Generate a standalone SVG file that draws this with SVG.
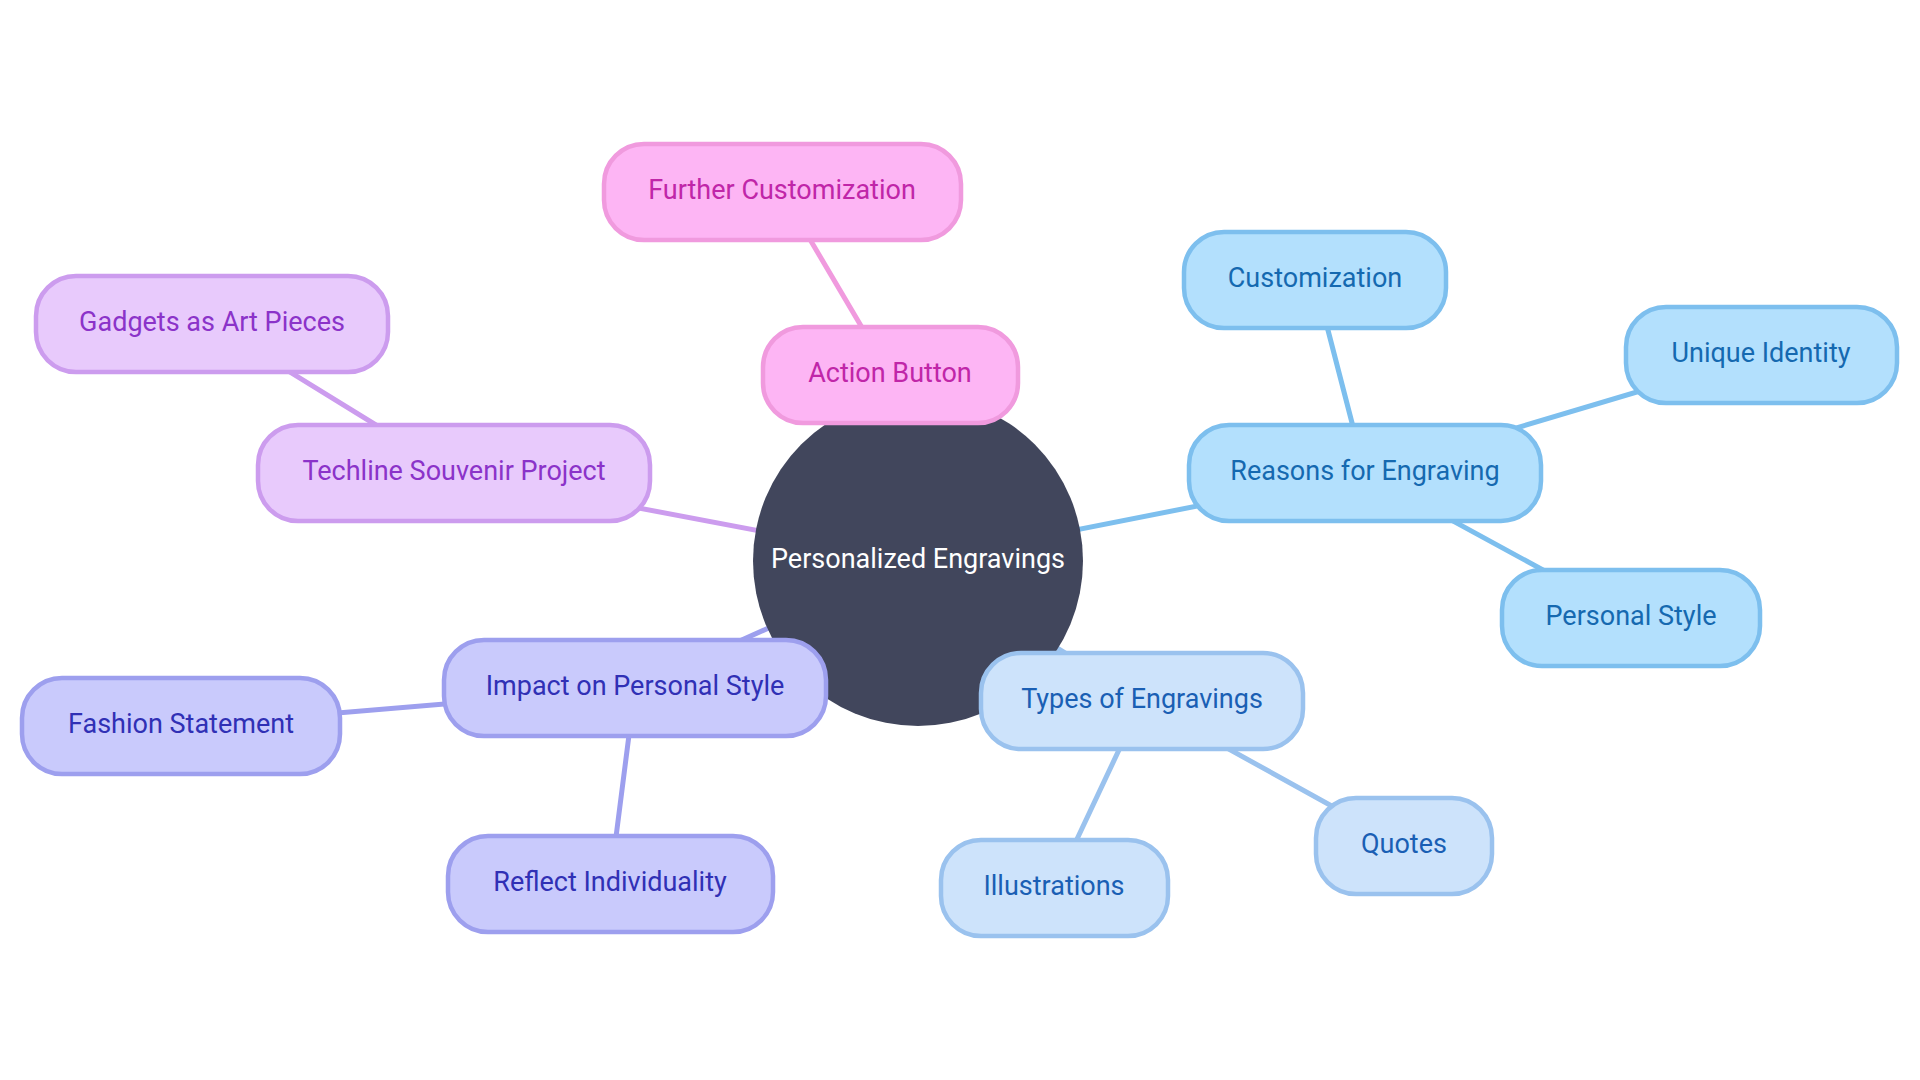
<svg xmlns="http://www.w3.org/2000/svg" width="1920" height="1080" viewBox="0 0 1920 1080">
<style>
text{font-family:Roboto,"Liberation Sans",sans-serif;font-size:27px;text-anchor:middle}
.n rect{stroke-width:4.5}
.pink rect{fill:#fdb5f4;stroke:#f09ade}.pink text{fill:#c026a8}
.purple rect{fill:#e8cafc;stroke:#cc9cee}.purple text{fill:#8b33c9}
.blue rect{fill:#b3e0fd;stroke:#7dbfee}.blue text{fill:#1569b0}
.lblue rect{fill:#cde3fb;stroke:#9ac2ee}.lblue text{fill:#1a5fb4}
.indigo rect{fill:#c9cafc;stroke:#9d9fee}.indigo text{fill:#3030b5}
#edges line{stroke-width:5;stroke-linecap:round}
.e-pink{stroke:#f09ade}.e-purple{stroke:#cc9cee}.e-blue{stroke:#7dbfee}.e-lblue{stroke:#9ac2ee}.e-indigo{stroke:#9d9fee}
</style>
<rect width="1920" height="1080" fill="#ffffff"/>
<g id="edges">
<line class="e-pink" x1="918" y1="561" x2="890" y2="375"/>
<line class="e-pink" x1="890" y1="375" x2="782" y2="192"/>
<line class="e-purple" x1="918" y1="561" x2="454" y2="473"/>
<line class="e-purple" x1="454" y1="473" x2="212" y2="324"/>
<line class="e-blue" x1="918" y1="561" x2="1365" y2="473"/>
<line class="e-blue" x1="1365" y1="473" x2="1315" y2="280"/>
<line class="e-blue" x1="1365" y1="473" x2="1761" y2="355"/>
<line class="e-blue" x1="1365" y1="473" x2="1631" y2="618"/>
<line class="e-lblue" x1="918" y1="561" x2="1142" y2="701"/>
<line class="e-lblue" x1="1142" y1="701" x2="1404" y2="846"/>
<line class="e-lblue" x1="1142" y1="701" x2="1054" y2="888"/>
<line class="e-indigo" x1="918" y1="561" x2="635" y2="688"/>
<line class="e-indigo" x1="635" y1="688" x2="181" y2="726"/>
<line class="e-indigo" x1="635" y1="688" x2="610" y2="884"/>
</g>
<g id="root">
<circle cx="918" cy="561" r="165" fill="#41465c"/>
<text x="918" y="568" fill="#ffffff">Personalized Engravings</text>
</g>
<g id="action-button" class="n pink"><rect x="763" y="327" width="255" height="96" rx="40"/><text x="890" y="382">Action Button</text></g>
<g id="further-customization" class="n pink"><rect x="604" y="144" width="357" height="96" rx="40"/><text x="782" y="199">Further Customization</text></g>
<g id="techline" class="n purple"><rect x="258" y="425" width="392" height="96" rx="40"/><text x="454" y="480">Techline Souvenir Project</text></g>
<g id="gadgets" class="n purple"><rect x="36" y="276" width="352" height="96" rx="40"/><text x="212" y="331">Gadgets as Art Pieces</text></g>
<g id="reasons" class="n blue"><rect x="1189" y="425" width="352" height="96" rx="40"/><text x="1365" y="480">Reasons for Engraving</text></g>
<g id="customization" class="n blue"><rect x="1184" y="232" width="262" height="96" rx="40"/><text x="1315" y="287">Customization</text></g>
<g id="unique-identity" class="n blue"><rect x="1626" y="307" width="271" height="96" rx="40"/><text x="1761" y="362">Unique Identity</text></g>
<g id="personal-style" class="n blue"><rect x="1502" y="570" width="258" height="96" rx="40"/><text x="1631" y="625">Personal Style</text></g>
<g id="types" class="n lblue"><rect x="981" y="653" width="322" height="96" rx="40"/><text x="1142" y="708">Types of Engravings</text></g>
<g id="quotes" class="n lblue"><rect x="1316" y="798" width="176" height="96" rx="40"/><text x="1404" y="853">Quotes</text></g>
<g id="illustrations" class="n lblue"><rect x="941" y="840" width="227" height="96" rx="40"/><text x="1054" y="895">Illustrations</text></g>
<g id="impact" class="n indigo"><rect x="444" y="640" width="382" height="96" rx="40"/><text x="635" y="695">Impact on Personal Style</text></g>
<g id="fashion" class="n indigo"><rect x="22" y="678" width="318" height="96" rx="40"/><text x="181" y="733">Fashion Statement</text></g>
<g id="reflect" class="n indigo"><rect x="448" y="836" width="325" height="96" rx="40"/><text x="610" y="891">Reflect Individuality</text></g>
</svg>
